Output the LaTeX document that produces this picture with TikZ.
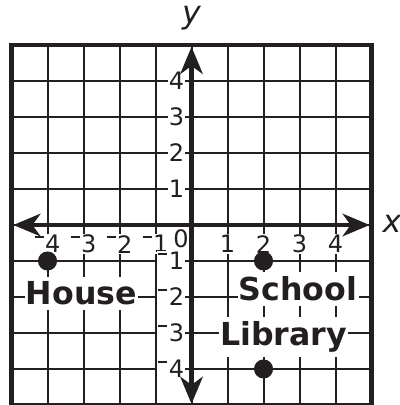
\documentclass[tikz,border=0pt]{standalone}
\usepackage{fontspec}
\setmainfont{DejaVu Sans}
\usetikzlibrary{arrows.meta}
\definecolor{ink}{RGB}{35,31,32}
\newcommand{\nneg}{\rule[0.62em]{0.38em}{0.09em}\kern0.06em}
\begin{document}
\begin{tikzpicture}[
  gridline/.style={ink, line width=1.6pt},
  frameline/.style={ink, line width=3.6pt},
  axisline/.style={ink, line width=3.8pt,
    {Stealth[length=0.75cm,width=0.62cm,inset=0.22cm]}-{Stealth[length=0.75cm,width=0.62cm,inset=0.22cm]}},
  tick/.style={fill=white, inner sep=0.8pt, text=ink, font=\fontsize{19}{22}\selectfont},
  place/.style={fill=white, inner xsep=1pt, inner ysep=4pt, text=ink,
    font=\fontsize{25}{30}\selectfont\bfseries, anchor=base},
  dot/.style={circle, fill=ink, inner sep=0pt, minimum size=0.53cm},
  axlabel/.style={text=ink, font=\fontsize{25}{30}\selectfont\itshape, anchor=base}
]
\useasboundingbox (-5.32,-5) rectangle (5.79,6.25);
\draw[gridline] (-5,-5) grid (5,5);
\draw[frameline] (-5,-5) rectangle (5,5);
% tick labels
\foreach \i in {1,2,3,4}{
  \node[tick] (xp\i) at (\i,-0.53) {\i};
  \node[tick] (xn\i) at (-\i,-0.53) {\nneg\i};
  \node[tick, anchor=east] (yp\i) at (-0.17,\i) {\i};
  \node[tick, anchor=east] (yn\i) at (-0.17,-\i) {\nneg\i};
}
\node[tick, fill=none] (zero) at (-0.29,-0.37) {0};
% place labels
\node[place] (houselbl) at (-3.06,-2.22) {House};
\node[place] (schoollbl) at (2.96,-2.11) {School};
\node[place] (librarylbl) at (2.56,-3.35) {Library};
% axes
\coordinate (xl) at (-4.95,0);
\coordinate (xr) at (4.95,0);
\coordinate (yb) at (0,-4.97);
\coordinate (yt) at (0,4.95);
\draw[axisline] (xl) -- (xr);
\draw[axisline] (yb) -- (yt);
\node[axlabel] (xlab) at (5.57,-0.22) {x};
\node[axlabel] (ylab) at (0,5.61) {y};
% points
\node[dot] (house) at (-4,-1) {};
\node[dot] (school) at (2,-1) {};
\node[dot] (library) at (2,-4) {};
\end{tikzpicture}
\end{document}
